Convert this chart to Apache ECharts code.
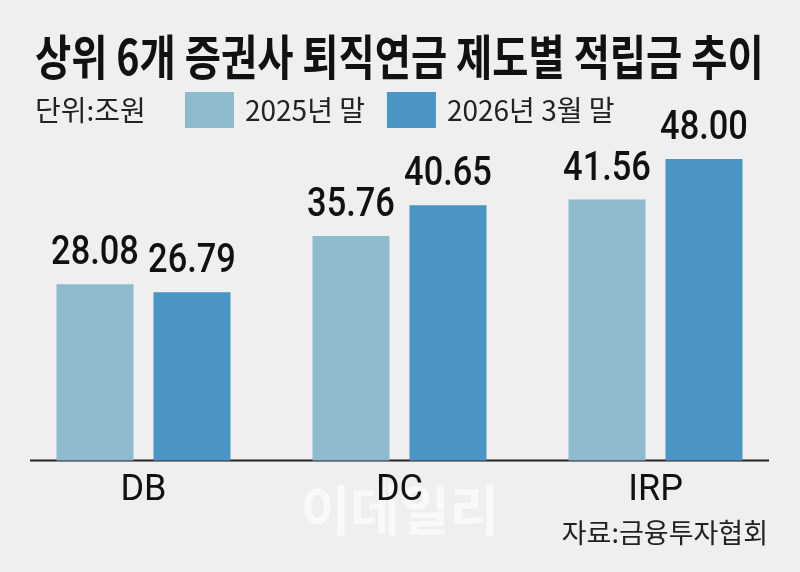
<!DOCTYPE html>
<html>
<head>
<meta charset="utf-8">
<script src="https://cdn.jsdelivr.net/npm/echarts@6/dist/echarts.min.js"></script>
<style>
  html, body { margin: 0; padding: 0; background: #efefef; }
  #chart { width: 800px; height: 572px; }
</style>
</head>
<body>
<div id="chart"></div>
<script>
const categories = ['DB', 'DC', 'IRP'];
const seriesNames = ['2025년 말', '2026년 3월 말'];
const values2025 = [28.08, 35.76, 41.56];
const values2026 = [26.79, 40.65, 48.00];

const KR = '"Noto Sans CJK KR", "Noto Sans", sans-serif';
const NUM = 'Roboto, "Liberation Sans", sans-serif';
const BAR_W = 77;
const BAR_GAP = 20;

const chart = echarts.init(document.getElementById('chart'));

// value labels drawn as squeezed text (the original uses a condensed face)
function labelSeries(values, side) {
    return {
        type: 'custom',
        silent: true,
        data: values.map((v, i) => [i, v]),
        encode: { x: 0, y: 1 },
        z: 5,
        renderItem: function (params, api) {
            const pt = api.coord([api.value(0), api.value(1)]);
            return {
                type: 'text',
                x: pt[0] + side * (BAR_W + BAR_GAP) / 2,
                y: pt[1] - 10,
                scaleX: 0.86,
                style: {
                    text: api.value(1).toFixed(2),
                    fontFamily: NUM,
                    fontWeight: 500,
                    fontSize: 40,
                    fill: '#111',
                    textAlign: 'center',
                    textVerticalAlign: 'bottom'
                }
            };
        }
    };
}

const option = {
    backgroundColor: '#efefef',
    animation: false,
    grid: { left: 15.5, right: 16.5, top: 83.7, bottom: 111.5 },
    legend: {
        left: 185,
        top: 92,
        padding: 0,
        itemWidth: 49,
        itemHeight: 36,
        itemGap: 22,
        icon: 'rect',
        textStyle: {
            fontFamily: KR,
            fontSize: 28,
            color: '#222',
            padding: [0, 0, 0, 6]
        },
        data: seriesNames
    },
    xAxis: {
        type: 'category',
        data: categories,
        axisLine: { show: false },
        axisTick: { show: false },
        axisLabel: {
            margin: 12,
            color: '#111',
            fontFamily: NUM,
            fontSize: 36
        }
    },
    yAxis: {
        type: 'value',
        min: 0,
        max: 60,
        show: false
    },
    series: [
        {
            name: seriesNames[0],
            type: 'bar',
            data: values2025,
            barWidth: BAR_W,
            barGap: (BAR_GAP / BAR_W * 100).toFixed(1) + '%',
            itemStyle: { color: '#8dbacd' }
        },
        {
            name: seriesNames[1],
            type: 'bar',
            data: values2026,
            barWidth: BAR_W,
            itemStyle: { color: '#4a95c3' }
        },
        labelSeries(values2025, -1),
        labelSeries(values2026, 1)
    ]
};

chart.setOption(option);

const baseY = chart.convertToPixel({ yAxisIndex: 0 }, 0);

chart.setOption({
    graphic: [
        {
            type: 'text',
            x: 35, y: 57,
            scaleX: 0.82,
            style: {
                text: '상위 6개 증권사 퇴직연금 제도별 적립금 추이',
                fontFamily: KR, fontWeight: 'bold', fontSize: 48,
                fill: '#111', textAlign: 'left', textVerticalAlign: 'middle'
            }
        },
        {
            type: 'text',
            x: 35, y: 110,
            style: {
                text: '단위:조원',
                fontFamily: KR, fontSize: 28,
                fill: '#222', textAlign: 'left', textVerticalAlign: 'middle'
            }
        },
        {
            type: 'line',
            shape: { x1: 30, y1: baseY, x2: 769, y2: baseY },
            style: { stroke: '#222', lineWidth: 2 }
        },
        {
            type: 'text',
            x: 400, y: 510,
            z: 0,
            style: {
                text: '이데일리',
                fontFamily: KR, fontWeight: 'bold', fontSize: 54,
                fill: 'rgba(255,255,255,0.6)', textAlign: 'center', textVerticalAlign: 'middle'
            }
        },
        {
            type: 'text',
            x: 768, y: 533,
            style: {
                text: '자료:금융투자협회',
                fontFamily: KR, fontSize: 27,
                fill: '#222', textAlign: 'right', textVerticalAlign: 'middle'
            }
        }
    ]
});
</script>
</body>
</html>
